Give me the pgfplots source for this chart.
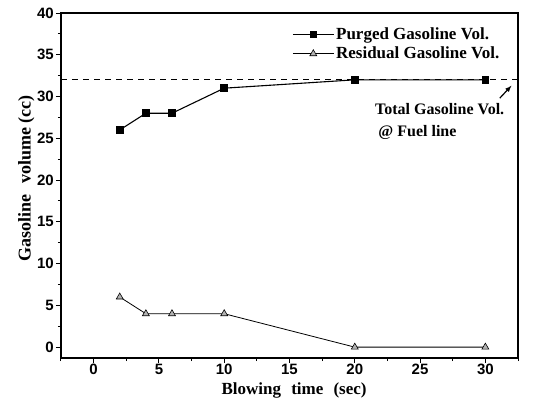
\documentclass[border=0pt]{standalone}
\usepackage{fontspec}
\setmainfont{Liberation Serif}
\newfontfamily\arialb{Liberation Sans}
\usepackage{pgfplots}
\pgfplotsset{compat=1.18}
\begin{document}
\begin{tikzpicture}
\begin{axis}[
  at={(0,0)}, anchor=south west,
  scale only axis, width=457pt, height=345pt,
  xmin=-2.5, xmax=32.5, ymin=-1.3, ymax=40,
  xtick={0,5,...,30}, ytick={0,5,...,40},
  minor xtick={-2.5,2.5,7.5,...,32.5}, minor ytick={2.5,7.5,...,37.5},
  tick align=outside, xtick pos=bottom, ytick pos=left,
  major tick length=5pt, minor tick length=3pt,
  every tick/.style={black, line width=1pt},
  axis line style={line width=1.3pt},
  /pgf/number format/assume math mode=true,
  ticklabel style={font=\arialb\bfseries\fontsize{15}{16}\selectfont},
  xticklabel style={inner sep=1pt},
  yticklabel style={inner sep=2pt},
  xlabel={\bfseries Blowing\hspace{0.6em}time\hspace{0.6em}(sec)},
  ylabel={\bfseries Gasoline\hspace{0.6em}volume (cc)},
  xlabel style={font=\bfseries\fontsize{17}{18}\selectfont,
    at={(axis description cs:0.51,0)}, anchor=base, yshift=-36.5pt},
  ylabel style={font=\bfseries\fontsize{18}{19}\selectfont,
    at={(ticklabel cs:0.52)}, yshift=-3pt},
  legend style={draw=none, fill=none, at={(0.963,0.962)}, anchor=north east,
    font=\bfseries\fontsize{17}{18}\selectfont, row sep=3pt, inner sep=0pt,
    nodes={inner sep=1.5pt}},
  legend cell align=left,
  legend image code/.code={
    \draw[#1] (0cm,0cm) -- (1.45cm,0cm);
    \draw[#1, only marks] plot coordinates {(0.72cm,0cm)};
  },
]
\addplot[black, line width=1.1pt, mark=square*, mark size=3.2pt, mark options={solid, fill=black}]
  coordinates {(2,26) (4,28) (6,28) (10,31) (20,32) (30,32)};
\addlegendentry{Purged Gasoline Vol.}
\addplot[black, line width=0.8pt, mark=triangle*, mark size=4pt, mark options={solid, fill=gray!60, draw=black, line width=0.6pt}]
  coordinates {(2,6) (4,4) (6,4) (10,4) (20,0) (30,0)};
\addlegendentry{Residual Gasoline Vol.}
\addplot[black, line width=0.9pt, dash pattern=on 6pt off 5pt, forget plot]
  coordinates {(-2.5,32) (32.5,32)};
\draw[-latex, line width=1.2pt] (axis cs:31.1,29.8) -- (axis cs:32.0,31.3);
\node[font=\bfseries\fontsize{16}{17}\selectfont] at (axis cs:26.5,28.5) {Total Gasoline Vol.};
\node[font=\bfseries\fontsize{16}{17}\selectfont] at (axis cs:24.8,25.7) {@ Fuel line};
\end{axis}
\pgfresetboundingbox
\path[use as bounding box] (-61pt,-41pt) rectangle (472pt,358pt);
\end{tikzpicture}
\end{document}
